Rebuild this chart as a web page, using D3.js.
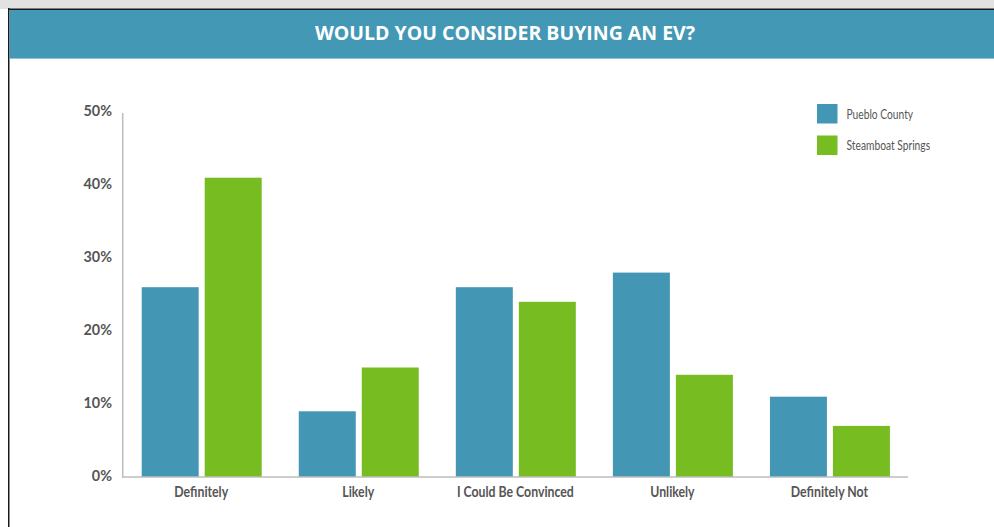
<!DOCTYPE html>
<html><head><meta charset="utf-8">
<script src="https://cdn.jsdelivr.net/npm/d3@7"></script>
<style>html,body{margin:0;padding:0;background:#fff;overflow:hidden}</style>
</head><body>
<svg id="c" width="994" height="527"></svg>
<script>
const categories = ["Definitely","Likely","I Could Be Convinced","Unlikely","Definitely Not"];
const seriesNames = ["Pueblo County","Steamboat Springs"];
const puebloValues = [26, 9, 26, 28, 11];
const steamboatValues = [41, 15, 24, 14, 7];
const tickValues = [0, 10, 20, 30, 40, 50];
const title = "WOULD YOU CONSIDER BUYING AN EV?";
const colors = ["#4397b5", "#77bd22"];

const svg = d3.select("#c");
// frame
svg.append("rect").attr("x",0).attr("y",0).attr("width",994).attr("height",9).attr("fill","#e2e2e2");
svg.append("rect").attr("x",8).attr("y",8.5).attr("width",990).attr("height",1.5).attr("fill","#1a1a1a");
svg.append("rect").attr("x",8).attr("y",8).attr("width",1.5).attr("height",519).attr("fill","#1a1a1a");
svg.append("rect").attr("x",9.5).attr("y",10).attr("width",985).attr("height",48).attr("fill","#4398b5");
svg.append("rect").attr("x",9.5).attr("y",58).attr("width",985).attr("height",1).attr("fill","#8ec3d6");
svg.append("text").attr("x",505).attr("y",40).attr("text-anchor","middle")
  .attr("fill","#fff").attr("font-family","Open Sans").attr("font-weight","bold").attr("font-size",19.5)
  .text(title);

const x0 = d3.scaleBand().domain(categories).range([122.7, 908]).paddingInner(0).paddingOuter(0);
const y = d3.scaleLinear().domain([0,50]).range([477,112]);
const data = categories.map((c,i)=>({c, v:[puebloValues[i], steamboatValues[i]]}));

const bw = 57, gap = 6, lead = 19;
const g = svg.append("g");
data.forEach(d=>{
  d.v.forEach((v,j)=>{
    g.append("rect").attr("x", x0(d.c)+lead + j*(bw+gap)).attr("y", y(v))
      .attr("width", bw).attr("height", y(0)-y(v)).attr("fill", colors[j]);
  });
});

// axes
svg.append("line").attr("x1",122.7).attr("x2",122.7).attr("y1",113).attr("y2",477.5).attr("stroke","#bdbdbd").attr("stroke-width",1.5);
svg.append("line").attr("x1",122).attr("x2",908).attr("y1",477).attr("y2",477).attr("stroke","#bdbdbd").attr("stroke-width",1.5);

const yAxis = svg.append("g").attr("transform","translate(112,0)")
  .call(d3.axisLeft(y).tickValues(tickValues).tickSize(0).tickPadding(0).tickFormat(d=>d+"%"));
yAxis.select(".domain").remove();
yAxis.selectAll("text").attr("fill","#555").attr("font-family","Lato").attr("font-weight","bold").attr("font-size",16)
  .attr("dy","0.32em").attr("y",-1.5).attr("transform","scale(0.9,1)");

const xAxis = svg.append("g").attr("transform","translate(0,477)")
  .call(d3.axisBottom(x0).tickSize(0).tickPadding(0));
xAxis.select(".domain").remove();
xAxis.selectAll("text").attr("fill","#555").attr("font-family","Lato").attr("font-weight","bold").attr("font-size",15)
  .attr("dy",0).attr("y",20).attr("transform","scale(0.82,1)");

// legend
const lg = svg.append("g");
seriesNames.forEach((s,i)=>{
  lg.append("rect").attr("x",817).attr("y",104+i*31.5).attr("width",20.5).attr("height",19.5).attr("fill",colors[i]);
  lg.append("g").attr("transform",`translate(846.5,${118.5+i*31.5})`)
    .append("text").attr("fill","#555").attr("font-family","Lato").attr("font-size",13.5)
    .attr("transform","scale(0.76,1)").text(s);
});
</script>
</body></html>
